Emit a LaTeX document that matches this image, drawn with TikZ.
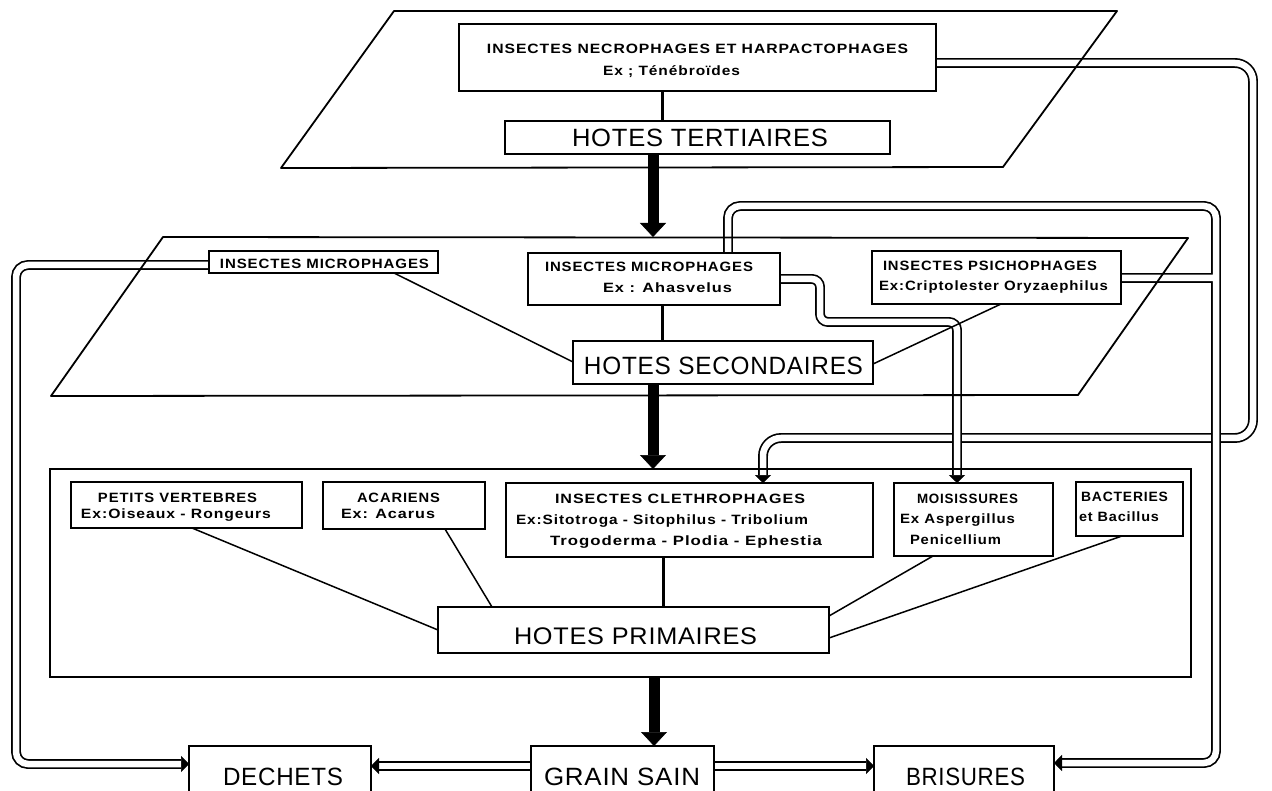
\documentclass[tikz,border=0pt]{standalone}
\usepackage{fontspec}
\usepackage{graphicx}
\usetikzlibrary{arrows.meta}
\newfontfamily\smallfnt{Liberation Sans}[LetterSpace=6]
\newfontfamily\bigfnt{Liberation Sans}[LetterSpace=3]
\newcommand\tw[2]{\resizebox{#1pt}{\height}{#2}}
\newcommand\bx[6][]{\node[box,#1,minimum width={(#4-#2)*1pt},minimum height={(#5-#3)*1pt}] (#6) at ({(#2+#4)/2},{(#3+#5)/2}) {};}
\begin{document}
\begin{tikzpicture}[x=1pt,y=-1pt,
  box/.style={draw, line width=1.8pt, inner sep=0pt, outer sep=0pt},
  tx/.style={inner sep=0pt, anchor=base, font=\smallfnt\bfseries\fontsize{13.5}{15}\selectfont},
  big/.style={inner sep=0pt, anchor=base, font=\bigfnt\fontsize{25}{29}\selectfont},
  link/.style={line width=1.5pt},
  stem/.style={line width=3pt},
  plane/.style={line width=1.8pt, line join=round},
  pipe/.style={line width=1.7pt, double=white, double distance=6.5pt, rounded corners=12pt,
    -{Triangle[length=8pt,width=16pt,line width=0.5pt]}},
  bigarrow/.style={line width=11pt, -{Triangle[length=14pt,width=26pt,line width=0.5pt]}}]
\fill[white] (0,0) rectangle (1272,791);
\useasboundingbox (0,0) rectangle (1272,791);
\clip (0,0) rectangle (1272,791);

% boxes
\bx{459}{24}{936}{91}{necro}
\bx{505}{121}{890}{154}{tert}
\bx{209}{251}{438}{273}{micro1}
\bx{528}{253}{780}{305}{micro2}
\bx{573}{341}{873}{384}{second}
\bx{872}{251}{1121}{304}{psicho}
\bx{50}{469}{1191}{677}{outer}
\bx{71}{482}{302}{528}{petits}
\bx{323}{482}{485}{529}{acar}
\bx{506}{483}{873}{557}{cleth}
\bx{894}{483}{1053}{556}{mois}
\bx{1076}{482}{1183}{536}{bact}
\bx{438}{607}{829}{653}{prim}
\bx{189}{746}{371}{805}{dechets}
\bx{531}{746}{714}{805}{grain}
\bx{874}{746}{1054}{805}{bris}

% pipes (double lines)
\draw[pipe, rounded corners=18pt] (necro.east |- 0,63) -- (1253,63) -- (1253,438) -- (763,438) -- (cleth.north -| 763,0);
\draw[pipe] (psicho.east |- 0,278) -- (1216,278)
  (micro2.north -| 728,0) -- (728,206) -- (1216,206) -- (1216,763) -- (bris.east |- 0,763);
\draw[pipe, rounded corners=8pt] (micro2.east |- 0,279) -- (820,279) -- (820,322) -- (957,322) -- (mois.north -| 957,0);
\draw[pipe] (micro1.west |- 0,265) -- (16,265) -- (16,764) -- (dechets.west |- 0,764);
\draw[pipe] (grain.west |- 0,766) -- (dechets.east |- 0,766);
\draw[pipe] (grain.east |- 0,766) -- (bris.west |- 0,766);

% redraw box outlines over pipes
\foreach \n in {necro,tert,micro1,micro2,second,psicho,outer,petits,acar,cleth,mois,bact,prim,dechets,grain,bris}
  \draw[line width=1.8pt] (\n.north west) rectangle (\n.south east);

% planes
\coordinate (pa1) at (394,11);
\coordinate (pa2) at (1117,11);
\coordinate (pa3) at (1003,167);
\coordinate (pa4) at (281,168);
\draw[plane] (pa1) -- (pa2) -- (pa3) -- (pa4) -- cycle;
\coordinate (pb1) at (163,237);
\coordinate (pb2) at (1188,238);
\coordinate (pb3) at (1078,395);
\coordinate (pb4) at (51,396);
\draw[plane] (pb1) -- (pb2) -- (pb3) -- (pb4) -- cycle;
\coordinate (pbin) at (653,237);

% stems and links
\draw[stem] (necro.south -| 662,0) -- (tert.north -| 662,0);
\draw[stem] (micro2.south -| 662,0) -- (second.north -| 662,0);
\draw[stem] (cleth.south -| 663,0) -- (prim.north -| 663,0);
\draw[link] (micro1.south -| 394,0) -- (second.west |- 0,362);
\draw[link] (psicho.south -| 1001,0) -- (second.east |- 0,364);
\draw[link] (petits.south -| 192,0) -- (prim.west |- 0,630);
\draw[link] (acar.south -| 445,0) -- (prim.north -| 492,0);
\draw[link] (mois.south -| 933,0) -- (prim.east |- 0,616);
\draw[link] (bact.south -| 1122,0) -- (prim.east |- 0,638);

% thick arrows
\draw[bigarrow] (tert.south -| 653,0) -- (pbin);
\draw[bigarrow] (second.south -| 653,0) -- (outer.north -| 653,0);
\draw[bigarrow] (outer.south -| 654,0) -- (grain.north -| 654,0);

% texts
\node[tx] (necro-a) at (697.5,54) {\tw{421}{INSECTES NECROPHAGES ET HARPACTOPHAGES}};
\node[tx] (necro-b) at (671.5,76) {\tw{137}{Ex ; Ténébroïdes}};
\node[big] (tert-t) at (700,147) {\tw{256}{HOTES TERTIAIRES}};
\node[tx] (mic1-t) at (324.5,268.5) {\tw{209}{INSECTES MICROPHAGES}};
\node[tx] (mic2-a) at (649,272) {\tw{208}{INSECTES MICROPHAGES}};
\node[tx] (mic2-b) at (667.5,293) {\tw{129}{Ex : Ahasvelus}};
\node[big] (sec-t) at (723.5,374) {\tw{279}{HOTES SECONDAIRES}};
\node[tx] (psi-a) at (990,271) {\tw{214}{INSECTES PSICHOPHAGES}};
\node[tx] (psi-b) at (993.5,291) {\tw{229}{Ex:Criptolester Oryzaephilus}};
\node[tx] (pet-a) at (177.5,502) {\tw{159}{PETITS VERTEBRES}};
\node[tx] (pet-b) at (176,518) {\tw{190}{Ex:Oiseaux - Rongeurs}};
\node[tx] (aca-a) at (398.5,502) {\tw{83}{ACARIENS}};
\node[tx] (aca-b) at (388,518) {\tw{94}{Ex: Acarus}};
\node[tx] (cle-a) at (680,503) {\tw{250}{INSECTES CLETHROPHAGES}};
\node[tx] (cle-b) at (662,524) {\tw{292}{Ex:Sitotroga - Sitophilus - Tribolium}};
\node[tx] (cle-c) at (686,545) {\tw{272}{Trogoderma - Plodia - Ephestia}};
\node[tx] (moi-a) at (967.5,503) {\tw{101}{MOISISSURES}};
\node[tx] (moi-b) at (957.5,523) {\tw{115}{Ex Aspergillus}};
\node[tx] (moi-c) at (955.5,544) {\tw{91}{Penicellium}};
\node[tx] (bac-a) at (1124.5,501) {\tw{87}{BACTERIES}};
\node[tx] (bac-b) at (1119,521) {\tw{80}{et Bacillus}};
\node[big, font=\bigfnt\fontsize{24}{28}\selectfont] (pri-t) at (635.5,644) {\tw{243}{HOTES PRIMAIRES}};
\node[big] (dec-t) at (283,785) {\tw{120}{DECHETS}};
\node[big] (gra-t) at (622,785) {\tw{156}{GRAIN SAIN}};
\node[big] (bri-t) at (965.5,785) {\tw{119}{BRISURES}};
\end{tikzpicture}
\end{document}
